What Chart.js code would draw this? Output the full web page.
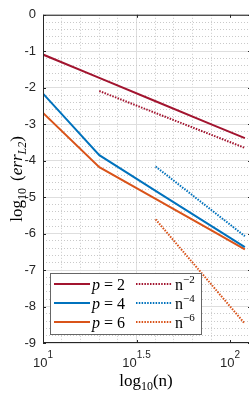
<!DOCTYPE html>
<html lang="en">
<head>
<meta charset="UTF-8">
<title>Error convergence</title>
<script src="https://cdn.jsdelivr.net/npm/chart.js@4.4.0/dist/chart.umd.min.js"></script>
<style>
  html, body { margin: 0; padding: 0; background: #fff; overflow: hidden; }
  #wrap { position: relative; width: 251px; height: 393px; }
</style>
</head>
<body>
<div id="wrap"><canvas id="myChart"></canvas></div>
<script>
// grid sizes and log10 of the L2 error
var nValues = [10, 20, 40, 80, 120];
var errP2 = [-1.09, -1.73, -2.37, -3.01, -3.38];
var errP4 = [-2.16, -3.85, -4.83, -5.80, -6.37];
var errP6 = [-2.69, -4.18, -5.05, -5.92, -6.43];

// reference slopes (only the two end points)
var refN2 = [20, 120];
var refErr2 = [-2.09, -3.65];
var refN46 = [40, 120];
var refErr4 = [-4.16, -6.07];
var refErr6 = [-5.61, -8.47];

// x tick labels are 10^e
var xTickExps = ['1', '1.5', '2'];
var orders = ['2', '4', '6'];
var refPowers = ['\u22122', '\u22124', '\u22126'];

var red = '#A2142F', blue = '#0072BD', orange = '#D95319';
var sans = '"Liberation Sans", Arial, sans-serif';
var serif = '"Liberation Serif", "Times New Roman", serif';

function pts(ns, ys) {
    return ns.map(function(n, i) { return { x: Math.log10(n), y: ys[i] }; });
}

function drawParts(ctx, parts, x, y, align) {
    var w = 0;
    parts.forEach(function(p) {
        ctx.font = p.font;
        p.w = ctx.measureText(p.text).width;
        w += p.w + (p.gap || 0);
    });
    var cx = align === 'center' ? x - w / 2 : x;
    parts.forEach(function(p) {
        ctx.font = p.font;
        ctx.fillText(p.text, cx, y + (p.dy || 0));
        cx += p.w + (p.gap || 0);
    });
}

function isMajor(v, step) {
    var k = v / step;
    return Math.abs(k - Math.round(k)) < 1e-6;
}

var decorations = {
    id: 'decorations',
    afterDraw: function(chart) {
        var ctx = chart.ctx, a = chart.chartArea;
        var xs = chart.scales.x, ys = chart.scales.y;
        ctx.save();
        ctx.textAlign = 'left';
        ctx.textBaseline = 'alphabetic';

        // axes box + inward ticks
        ctx.strokeStyle = '#262626';
        ctx.lineWidth = 1;
        ctx.strokeRect(a.left + 0.5, a.top + 0.5, a.right - a.left - 1, a.bottom - a.top - 1);
        ctx.beginPath();
        ys.ticks.forEach(function(t) {
            if (!isMajor(t.value, 1)) return;
            var py = Math.round(ys.getPixelForValue(t.value)) + 0.5;
            ctx.moveTo(a.left, py); ctx.lineTo(a.left + 3, py);
            ctx.moveTo(a.right, py); ctx.lineTo(a.right - 3, py);
        });
        xTickExps.forEach(function(e) {
            var px = Math.round(xs.getPixelForValue(parseFloat(e))) + 0.5;
            ctx.moveTo(px, a.bottom); ctx.lineTo(px, a.bottom - 3);
            ctx.moveTo(px, a.top); ctx.lineTo(px, a.top + 3);
        });
        ctx.stroke();

        // x tick labels 10^e
        ctx.fillStyle = '#262626';
        xTickExps.forEach(function(e) {
            var px = xs.getPixelForValue(parseFloat(e));
            drawParts(ctx, [
                { text: '10', font: '13px ' + sans },
                { text: e, font: '10px ' + sans, dy: -9 }
            ], px, 367, 'center');
        });

        // axis titles
        ctx.fillStyle = '#000';
        drawParts(ctx, [
            { text: 'log', font: '17px ' + serif },
            { text: '10', font: '12px ' + serif, dy: 4 },
            { text: '(n)', font: '17px ' + serif }
        ], (a.left + 249) / 2, 386, 'center');

        ctx.save();
        ctx.translate(22, (a.top + a.bottom) / 2);
        ctx.rotate(-Math.PI / 2);
        drawParts(ctx, [
            { text: 'log', font: '17px ' + serif },
            { text: '10', font: '12px ' + serif, dy: 4, gap: 7 },
            { text: '(', font: '17px ' + serif },
            { text: 'err', font: 'italic 17px ' + serif },
            { text: 'L2', font: 'italic 12px ' + serif, dy: 4 },
            { text: ')', font: '17px ' + serif }
        ], 0, 0, 'center');
        ctx.restore();

        // legend
        var ds = chart.data.datasets;
        ctx.fillStyle = '#fff';
        ctx.fillRect(50.5, 273.5, 151, 61);
        ctx.strokeStyle = '#666';
        ctx.lineWidth = 1;
        ctx.strokeRect(50.5, 273.5, 151, 61);
        for (var i = 0; i < 3; i++) {
            var ry = 284 + 19 * i;
            var main = ds[i], ref = ds[i + 3];
            ctx.lineWidth = 2;
            ctx.setLineDash([]);
            ctx.strokeStyle = main.borderColor;
            ctx.beginPath(); ctx.moveTo(54, ry); ctx.lineTo(90, ry); ctx.stroke();
            ctx.setLineDash(ref.borderDash);
            ctx.strokeStyle = ref.borderColor;
            ctx.beginPath(); ctx.moveTo(136, ry); ctx.lineTo(172, ry); ctx.stroke();
            ctx.setLineDash([]);
            ctx.fillStyle = '#000';
            drawParts(ctx, [
                { text: 'p', font: 'italic 16px ' + serif, gap: 4 },
                { text: '=', font: '16px ' + serif, gap: 4 },
                { text: orders[i], font: '16px ' + serif }
            ], 92, ry + 5.5, 'left');
            drawParts(ctx, [
                { text: 'n', font: '16px ' + serif },
                { text: refPowers[i], font: '11px ' + serif, dy: -7 }
            ], 175, ry + 5.5, 'left');
        }
        ctx.restore();
    }
};

function lineSet(label, data, color, dash) {
    return {
        label: label,
        data: data,
        borderColor: color,
        backgroundColor: color,
        borderWidth: 2,
        borderDash: dash || [],
        pointRadius: 0,
        tension: 0,
        fill: false
    };
}

window.onload = function() {
    var ctx = document.getElementById('myChart').getContext('2d');
    var dots = [1.5, 1.3];
    new Chart(ctx, {
        type: 'line',
        data: {
            datasets: [
                lineSet('p = 2', pts(nValues, errP2), red),
                lineSet('p = 4', pts(nValues, errP4), blue),
                lineSet('p = 6', pts(nValues, errP6), orange),
                lineSet('n^-2', pts(refN2, refErr2), red, dots),
                lineSet('n^-4', pts(refN46, refErr4), blue, dots),
                lineSet('n^-6', pts(refN46, refErr6), orange, dots)
            ]
        },
        options: {
            responsive: true,
            maintainAspectRatio: false,
            animation: false,
            devicePixelRatio: 1,
            layout: { padding: { top: 6, left: 0, right: 0, bottom: 0 } },
            plugins: { legend: { display: false }, tooltip: { enabled: false } },
            scales: {
                x: {
                    type: 'linear', position: 'bottom',
                    min: 1, max: 2.112,
                    ticks: { display: false, stepSize: 0.5 },
                    grid: { color: '#dedede', drawTicks: false },
                    border: { display: false },
                    afterFit: function(s) { s.height = 50; }
                },
                x2: {
                    type: 'linear', position: 'bottom',
                    min: 1, max: 2.112,
                    ticks: { display: false, stepSize: 0.1 },
                    grid: {
                        drawTicks: false,
                        color: function(c) { return isMajor(c.tick.value, 0.5) ? 'rgba(0,0,0,0)' : '#c9c9c9'; }
                    },
                    border: { display: false, dash: [1, 2] },
                    afterFit: function(s) { s.height = 0; }
                },
                y: {
                    type: 'linear', position: 'left',
                    min: -9, max: 0,
                    ticks: { stepSize: 1, padding: 7, color: '#262626', font: { family: sans, size: 13 } },
                    grid: { color: '#dedede', drawTicks: false },
                    border: { display: false },
                    afterFit: function(s) { s.width = 43; }
                },
                y2: {
                    type: 'linear', position: 'left',
                    min: -9, max: 0,
                    ticks: { display: false, stepSize: 0.2 },
                    grid: {
                        drawTicks: false,
                        color: function(c) { return isMajor(c.tick.value, 1) ? 'rgba(0,0,0,0)' : '#c9c9c9'; }
                    },
                    border: { display: false, dash: [1, 2] },
                    afterFit: function(s) { s.width = 0; }
                }
            }
        },
        plugins: [decorations]
    });
};
</script>
</body>
</html>
